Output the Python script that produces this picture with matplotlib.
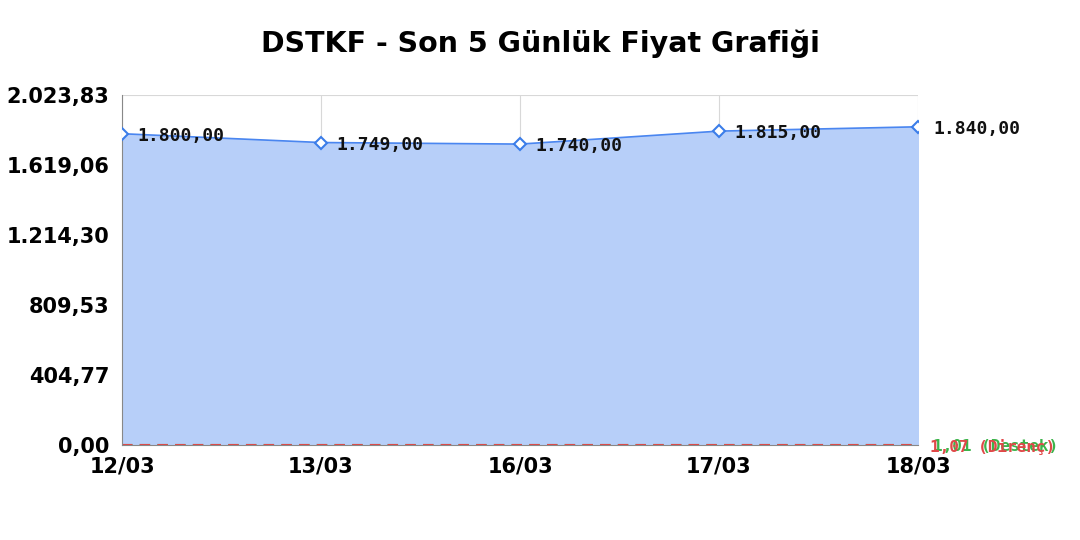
import matplotlib
matplotlib.use("Agg")
import matplotlib.pyplot as plt
import numpy as np

plt.rcParams["font.family"] = ["DejaVu Sans"]

dates = ["12/03", "13/03", "16/03", "17/03", "18/03"]
prices = [1800.00, 1749.00, 1740.00, 1815.00, 1840.00]
price_labels = ["1.800,00", "1.749,00", "1.740,00", "1.815,00", "1.840,00"]
yticks = [0.00, 404.77, 809.53, 1214.30, 1619.06, 2023.83]
ytick_labels = ["0,00", "404,77", "809,53", "1.214,30", "1.619,06", "2.023,83"]
support = 1.01
resistance = 1.07
support_label = "1,01 (Destek)"
resistance_label = "1,07 (Direnç)"
title = "DSTKF - Son 5 Günlük Fiyat Grafiği"

fig = plt.figure(figsize=(10.8, 5.4), dpi=100)
ax = fig.add_axes([122/1080, 1-445/540, (918-122)/1080, (445-95)/540])

x = np.arange(len(dates))
ax.fill_between(x, prices, 0, color="#b7cff9", zorder=1)
ax.plot(x, prices, color="#4a86f0", lw=1.2, zorder=3)
ax.plot(x, prices, ls="none", marker="D", ms=6, mfc="white", mec="#3b7de9", mew=1.5, zorder=4)

ax.axhline(support, color="#3cb44b", ls=(0, (5, 3.5)), lw=1.5, zorder=2)
ax.axhline(resistance, color="#e04848", ls=(0, (5, 3.5)), lw=1.5, zorder=2)

for xi, p, lbl in zip(x, prices, price_labels):
    ax.annotate(lbl, (xi, p), xytext=(11, -1.5), textcoords="offset points",
                ha="left", va="center", fontsize=13, fontweight="bold",
                family="DejaVu Sans Mono", color="#111111", zorder=5)

ax.annotate(support_label, (1, support), xycoords=("axes fraction", "data"),
            xytext=(10.5, -1.5), textcoords="offset points", ha="left", va="center",
            fontsize=11.5, fontweight="bold", family="DejaVu Sans Mono", color="#3cb44b",
            annotation_clip=False)
ax.annotate(resistance_label, (1, resistance), xycoords=("axes fraction", "data"),
            xytext=(8.5, -1.5), textcoords="offset points", ha="left", va="center",
            fontsize=11.5, fontweight="bold", family="DejaVu Sans Mono", color="#e04848",
            annotation_clip=False)

ax.set_xlim(0, len(dates) - 1)
ax.set_ylim(0, yticks[-1])
ax.set_xticks(x)
ax.set_xticklabels(dates, fontsize=15, fontweight="bold")
ax.set_yticks(yticks)
ax.set_yticklabels(ytick_labels, fontsize=15, fontweight="bold")
ax.tick_params(axis="y", length=0, pad=9)
ax.tick_params(axis="x", length=0, pad=8)
ax.grid(True, color="#d8d8d8", lw=0.8, zorder=0)
ax.set_axisbelow(True)
for s in ["top", "right"]:
    ax.spines[s].set_visible(False)
ax.spines["left"].set_color("#888888")
ax.spines["bottom"].set_color("#888888")

fig.text(0.5, 1-44/540, title, ha="center", va="center", fontsize=20.5, fontweight="bold")

fig.savefig("out.png", dpi=100)
